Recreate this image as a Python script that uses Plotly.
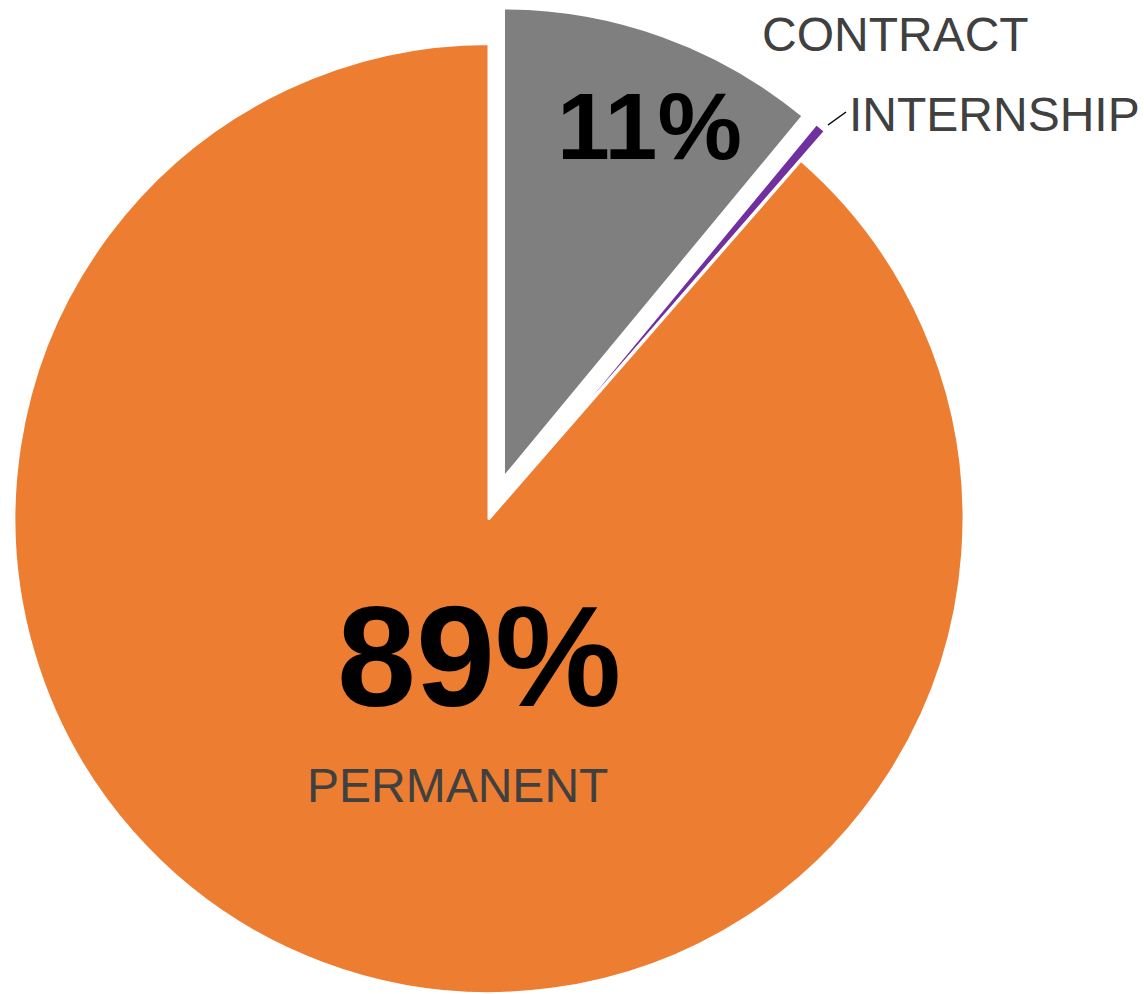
import numpy as np
import plotly.graph_objects as go

# ---- data ----
labels = ["CONTRACT", "INTERNSHIP", "PERMANENT"]
values = [11.0, 0.4, 88.6]
pct_text = ["11%", "", "89%"]
colors = ["#7F7F7F", "#7030A0", "#ED7D31"]
pulls = [0.09, 0.09, 0.0]          # explode distance, fraction of radius
radius_scale = [0.99, 0.99, 1.0]   # exploded slices are drawn slightly smaller

W, H = 1144, 994
R = 475.0              # pie radius in px
CX, CY = 489.0, 518.5  # pie centre in px (from top-left)

fig = go.Figure()

vals = np.array(values, dtype=float)
cum = np.cumsum(vals) - vals / 2.0
mid_angles = 2 * np.pi * cum / vals.sum()  # clockwise from 12 o'clock

for i, lab in enumerate(labels):
    dx = pulls[i] * R * np.sin(mid_angles[i])
    dy = -pulls[i] * R * np.cos(mid_angles[i])
    cx, cy = CX + dx, CY + dy
    r = R * radius_scale[i]
    dom_x = [max(0, min(1, v)) for v in [(cx - r) / W, (cx + r) / W]]
    dom_y = [max(0, min(1, v)) for v in [1 - (cy + r) / H, 1 - (cy - r) / H]]
    cols = ["rgba(0,0,0,0)"] * len(labels)
    cols[i] = colors[i]
    lw = [0] * len(labels)
    lw[i] = 3
    fig.add_trace(go.Pie(
        labels=labels, values=values, sort=False, direction="clockwise",
        rotation=0, textinfo="none", hoverinfo="label+percent",
        marker=dict(colors=cols, line=dict(color="white", width=lw)),
        domain=dict(x=dom_x, y=dom_y), showlegend=False,
    ))

def px(x, y):
    return x / W, 1 - y / H

FONT = "Arial, Liberation Sans"
ann = []
x, y = px(479, 656)
ann.append(dict(x=x, y=y, text="<b>" + pct_text[2] + "</b>", font=dict(size=142, color="black", family=FONT)))
x, y = px(649, 126.5)
ann.append(dict(x=x, y=y, text="<b>" + pct_text[0] + "</b>", font=dict(size=95, color="black", family=FONT)))
x, y = px(457.5, 785)
ann.append(dict(x=x, y=y, text=labels[2], font=dict(size=48, color="#404040", family=FONT)))
x, y = px(895.5, 34.5)
ann.append(dict(x=x, y=y, text=labels[0], font=dict(size=48, color="#404040", family=FONT)))
x, y = px(847, 114.5)
ann.append(dict(x=x, y=y, text=labels[1], xanchor="left", font=dict(size=48, color="#404040", family=FONT)))

for a in ann:
    a.setdefault("xanchor", "center")
    a.update(xref="paper", yref="paper", yanchor="middle", showarrow=False)

x0, y0 = px(828, 125)
x1, y1 = px(846, 112)
fig.update_layout(
    width=W, height=H, margin=dict(l=0, r=0, t=0, b=0),
    paper_bgcolor="white", plot_bgcolor="white",
    annotations=ann,
    shapes=[dict(type="line", xref="paper", yref="paper", x0=x0, y0=y0, x1=x1, y1=y1,
                 line=dict(color="black", width=1.5))],
)

fig.write_html("out.html", config={"displayModeBar": False},
               post_script="document.body.style.margin='0';")
